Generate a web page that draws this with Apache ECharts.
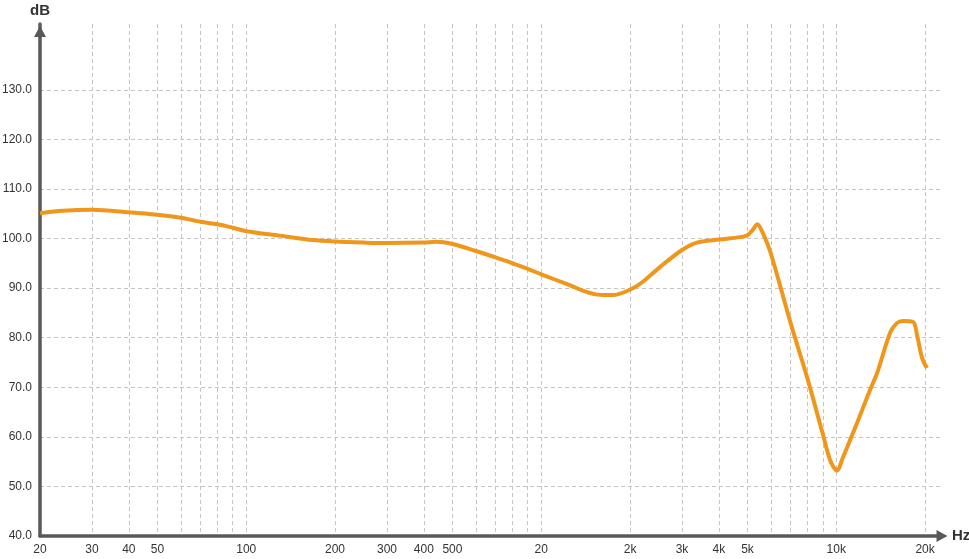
<!DOCTYPE html>
<html>
<head>
<meta charset="utf-8">
<script src="https://cdn.jsdelivr.net/npm/echarts@6/dist/echarts.min.js"></script>
<style>
html,body{margin:0;padding:0;background:#fff;}
#chart{width:969px;height:559px;}
</style>
</head>
<body>
<div id="chart"></div>
<script>
// Frequency response data (Hz, dB)
var freqs = [20, 23.9, 30, 40, 50, 60, 70, 80, 90, 100, 130, 168, 200, 250, 300, 400, 440, 500, 600, 700, 800, 900, 1000, 1250, 1400, 1550, 1750, 2000, 2200, 2530, 3000, 3370, 4000, 4720, 5000, 5200, 5400, 5650, 6000, 7000, 8000, 9000, 9530, 10050, 10540, 11760, 13020, 13760, 15220, 16080, 16840, 18220, 18800, 19540, 20300];
var levels = [105.1, 105.6, 105.8, 105.3, 104.8, 104.2, 103.4, 102.9, 102.2, 101.5, 100.6, 99.7, 99.4, 99.2, 99.1, 99.2, 99.35, 98.9, 97.5, 96.2, 95.0, 93.9, 92.8, 90.6, 89.4, 88.7, 88.6, 89.7, 91.2, 94.3, 97.7, 99.2, 99.8, 100.3, 100.7, 101.7, 102.9, 101.0, 97.0, 83.0, 71.6, 60.6, 55.3, 53.2, 55.9, 62.8, 69.5, 72.9, 81.0, 83.0, 83.4, 83.2, 80.4, 75.9, 73.9];

// Axis ticks
var xLabelFreqs = [20, 30, 40, 50, 100, 200, 300, 400, 500, 1000, 2000, 3000, 4000, 5000, 10000, 20000];
var xLabelTexts = ['20', '30', '40', '50', '100', '200', '300', '400', '500', '20', '2k', '3k', '4k', '5k', '10k', '20k'];
var xGridFreqs = [20, 30, 40, 50, 60, 70, 80, 90, 100, 200, 300, 400, 500, 600, 700, 800, 900, 1000, 2000, 3000, 4000, 5000, 6000, 7000, 8000, 9000, 10000, 20000];
var yTicks = [40, 50, 60, 70, 80, 90, 100, 110, 120, 130];

var xMinHz = 20, xMaxHz = 23000;
var yMin = 40, yMax = 143.3;

function lg(v){ return Math.log10(v); }

var seriesData = freqs.map(function(f, i){ return [lg(f), levels[i]]; });

var chart = echarts.init(document.getElementById('chart'), null, {renderer: 'canvas'});
var axisColor = '#595959';
var gridStyle = {color: '#c4c4c4', width: 1, type: [4, 3]};
var fontFam = 'Liberation Sans, Arial, sans-serif';

chart.setOption({
  animation: false,
  backgroundColor: '#ffffff',
  grid: {left: 40, right: 26, top: 24, bottom: 23, containLabel: false, outerBoundsMode: 'none'},
  xAxis: {
    type: 'value',
    min: lg(xMinHz),
    max: lg(xMaxHz),
    name: 'Hz',
    nameLocation: 'end',
    nameGap: 9,
    nameTextStyle: {fontFamily: fontFam, fontSize: 15, fontWeight: 'bold', color: '#333', verticalAlign: 'middle'},
    axisLine: {show: true, onZero: false, lineStyle: {color: axisColor, width: 3.5}, symbol: ['none', 'triangle'], symbolSize: [12, 11], symbolOffset: [0, -1]},
    axisTick: {show: false, customValues: xGridFreqs.map(lg)},
    splitLine: {show: true, lineStyle: gridStyle},
    axisLabel: {
      customValues: xLabelFreqs.map(lg),
      margin: 8,
      fontFamily: fontFam,
      fontSize: 12,
      color: '#333',
      formatter: function(v){
        for (var i = 0; i < xLabelFreqs.length; i++) {
          if (Math.abs(lg(xLabelFreqs[i]) - v) < 1e-6) return xLabelTexts[i];
        }
        return '';
      }
    }
  },
  yAxis: {
    type: 'value',
    min: yMin,
    max: yMax,
    name: 'dB',
    nameLocation: 'end',
    nameGap: 6,
    nameTextStyle: {fontFamily: fontFam, fontSize: 15, fontWeight: 'bold', color: '#333', align: 'center'},
    axisLine: {show: true, onZero: false, lineStyle: {color: axisColor, width: 3.5}, symbol: ['none', 'triangle'], symbolSize: [12, 11], symbolOffset: [0, -7.5]},
    axisTick: {show: false, customValues: yTicks},
    splitLine: {show: true, lineStyle: gridStyle},
    axisLabel: {
      customValues: yTicks,
      margin: 8,
      fontFamily: fontFam,
      fontSize: 12,
      color: '#333',
      formatter: function(v){ return Number(v).toFixed(1); }
    }
  },
  series: [{
    type: 'line',
    data: seriesData,
    showSymbol: false,
    smooth: 0.3,
    lineStyle: {color: '#F0961A', width: 4},
    itemStyle: {color: '#F0961A'},
    z: 5
  }]
});
</script>
</body>
</html>
